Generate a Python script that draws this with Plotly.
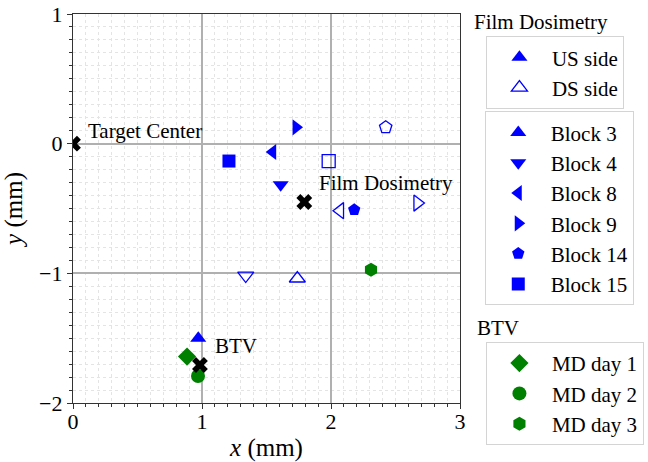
import plotly.graph_objects as go

# ---- data ----
blocks = ["Block 3", "Block 4", "Block 8", "Block 9", "Block 14", "Block 15"]
us_x = [0.971, 1.610, 1.548, 1.729, 2.180, 1.209]
us_y = [-1.500, -0.317, -0.064, 0.126, -0.510, -0.134]
ds_x = [1.739, 1.339, 2.070, 2.670, 2.424, 1.982]
ds_y = [-1.040, -1.017, -0.517, -0.458, 0.126, -0.134]

md_days = ["MD day 1", "MD day 2", "MD day 3"]
md_x = [0.884, 0.969, 2.310]
md_y = [-1.642, -1.792, -0.973]

center_names = ["Target Center", "Film Dosimetry", "BTV"]
center_x = [0.0, 1.793, 0.984]
center_y = [0.0, -0.450, -1.707]

# ---- styles ----
block_symbols = ["triangle-up", "triangle-down", "triangle-left",
                 "triangle-right", "pentagon", "square"]
md_symbols = ["diamond", "circle", "hexagon"]
BLUE = "#0000ff"
GREEN = "#008000"
FONT = "Times New Roman, Liberation Serif, DejaVu Serif, serif"
MS = 14

fig = go.Figure()

# legend 1: side
fig.add_trace(go.Scatter(x=[None], y=[None], mode="markers", name="US side",
                         marker=dict(symbol="triangle-up", color=BLUE, size=MS),
                         legend="legend"))
fig.add_trace(go.Scatter(x=[None], y=[None], mode="markers", name="DS side",
                         marker=dict(symbol="triangle-up-open", color=BLUE, size=MS,
                                     line=dict(width=1.3, color=BLUE)),
                         legend="legend"))

# blocks
for i, b in enumerate(blocks):
    sz = MS if block_symbols[i] not in ("pentagon", "square") else MS - 1
    fig.add_trace(go.Scatter(x=[us_x[i]], y=[us_y[i]], mode="markers", name=b,
                             marker=dict(symbol=block_symbols[i], color=BLUE, size=sz),
                             legend="legend2"))
    fig.add_trace(go.Scatter(x=[ds_x[i]], y=[ds_y[i]], mode="markers", name=b,
                             showlegend=False,
                             marker=dict(symbol=block_symbols[i] + "-open", color=BLUE,
                                         size=sz, line=dict(width=1.3, color=BLUE))))

# BTV
for i, d in enumerate(md_days):
    fig.add_trace(go.Scatter(x=[md_x[i]], y=[md_y[i]], mode="markers", name=d,
                             marker=dict(symbol=md_symbols[i], color=GREEN, size=MS),
                             legend="legend3"))

# centers
fig.add_trace(go.Scatter(x=center_x, y=center_y, mode="markers", showlegend=False,
                         marker=dict(symbol="x", color="black", size=MS)))

label_offsets = [(0.1, 0.1), (0.1, 0.15), (0.1, 0.15)]
for name, cx, cy, (dx, dy) in zip(center_names, center_x, center_y, label_offsets):
    fig.add_annotation(x=cx + dx, y=cy + dy, text=name, showarrow=False,
                       xanchor="left", yanchor="middle",
                       font=dict(family=FONT, size=21, color="black"))

# legend titles
fig.add_annotation(xref="paper", yref="paper", x=1.031, y=0.979, text="Film Dosimetry",
                   showarrow=False, xanchor="left", yanchor="middle",
                   font=dict(family=FONT, size=21, color="black"))
fig.add_annotation(xref="paper", yref="paper", x=1.038, y=0.193, text="BTV",
                   showarrow=False, xanchor="left", yanchor="middle",
                   font=dict(family=FONT, size=21, color="black"))

axis_common = dict(
    showline=True, mirror=True, linecolor="#333333", linewidth=1.3,
    ticks="outside", ticklen=5, tickwidth=1, tickcolor="#333333",
    showgrid=True, gridcolor="#b0b0b0", gridwidth=1.5,
    zeroline=False, dtick=1, automargin=False,
    tickfont=dict(family=FONT, size=22, color="black"),
    minor=dict(dtick=0.1, showgrid=True, gridcolor="#e4e4e4", griddash="dot",
               gridwidth=1, ticks="outside", ticklen=3, tickcolor="#333333"),
)

legend_common = dict(xanchor="left", yanchor="top", bordercolor="#d4d4d4",
                     borderwidth=1, bgcolor="white", itemwidth=55,
                     font=dict(family=FONT, size=21))

fig.update_layout(
    width=648, height=462,
    margin=dict(l=73, r=188, t=14, b=59, autoexpand=False),
    plot_bgcolor="white", paper_bgcolor="white",
    font=dict(family=FONT, size=21, color="black"),
    xaxis=dict(range=[0, 3], ticklabelstandoff=-7,
               title=dict(text="<i>x</i> (mm)", font=dict(family=FONT, size=25)),
               **axis_common),
    yaxis=dict(range=[-2, 1],
               title=dict(text="<i>y</i> (mm)", font=dict(family=FONT, size=25)),
               **axis_common),
    legend=dict(x=1.067, y=0.943, **legend_common),
    legend2=dict(x=1.064, y=0.750, **legend_common),
    legend3=dict(x=1.067, y=0.157, **legend_common),
)

fig.write_html("out.html")
